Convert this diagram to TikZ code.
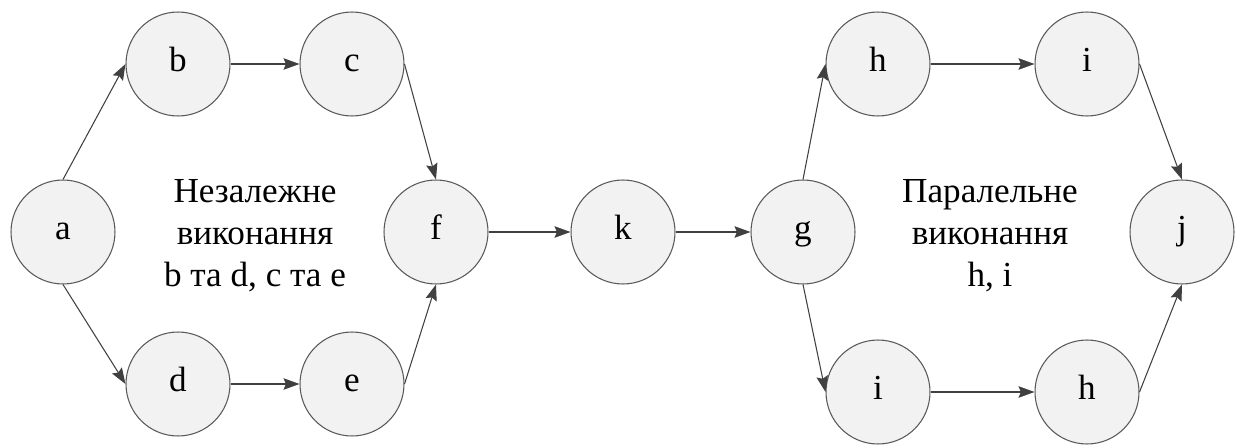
\documentclass[tikz,border=0pt]{standalone}
\usepackage{fontspec}
\setmainfont{Liberation Serif}
\usetikzlibrary{positioning, arrows.meta}

\begin{document}
\begin{tikzpicture}[
    x=0.02cm, y=-0.02cm,
    >={Stealth[length=3.2mm, width=2.3mm, inset=0.5mm]},
    font=\fontsize{20}{24}\selectfont,
    state/.style={circle, draw=black!65, fill=black!5, line width=0.6pt,
                  minimum size=2.08cm, inner sep=0pt,
                  text height=1.0em, text depth=0.2em},
    flow/.style={->, draw=black!75, line width=0.6pt},
    note/.style={align=center, inner sep=0pt},
]

% --- background / bounding box ---
\useasboundingbox (0,0) rectangle (1241,446);

% =====================================================================
%  LEFT PART - independent execution
% =====================================================================
\node[state] (a) at (63,232)  {a};
\node[state] (b) at (178,64)  {b};
\node[state] (c) at (352,64)  {c};
\node[state] (d) at (178,384) {d};
\node[state] (e) at (352,384) {e};
\node[state] (f) at (436,232) {f};

\node[note] (lblL) at (255,236) {Незалежне\\виконання\\b та d, с та е};

% --- connectors ---
\draw[flow] (a.north) -- (b.west);
\draw[flow] (a.south) -- (d.west);
\draw[flow] (b) -- (c);
\draw[flow] (d) -- (e);
\draw[flow] (c.east) -- (f.north);
\draw[flow] (e.east) -- (f.south);

% =====================================================================
%  MIDDLE
% =====================================================================
\node[state] (k) at (623,232) {k};
\node[state] (g) at (803,232) {g};

\draw[flow] (f) -- (k);
\draw[flow] (k) -- (g);

% =====================================================================
%  RIGHT PART - parallel execution
% =====================================================================
\node[state] (h1) at (878,64)   {h};
\node[state] (i1) at (1087,64)  {i};
\node[state] (i2) at (878,392)  {i};
\node[state] (h2) at (1087,392) {h};
\node[state] (j)  at (1182,232) {j};

\node[note] (lblR) at (990,236) {Паралельне\\виконання\\h, i};

% --- connectors ---
\draw[flow] (g.north) -- (h1.west);
\draw[flow] (g.south) -- (i2.west);
\draw[flow] (h1) -- (i1);
\draw[flow] (i2) -- (h2);
\draw[flow] (i1.east) -- (j.north);
\draw[flow] (h2.east) -- (j.south);

\end{tikzpicture}
\end{document}
